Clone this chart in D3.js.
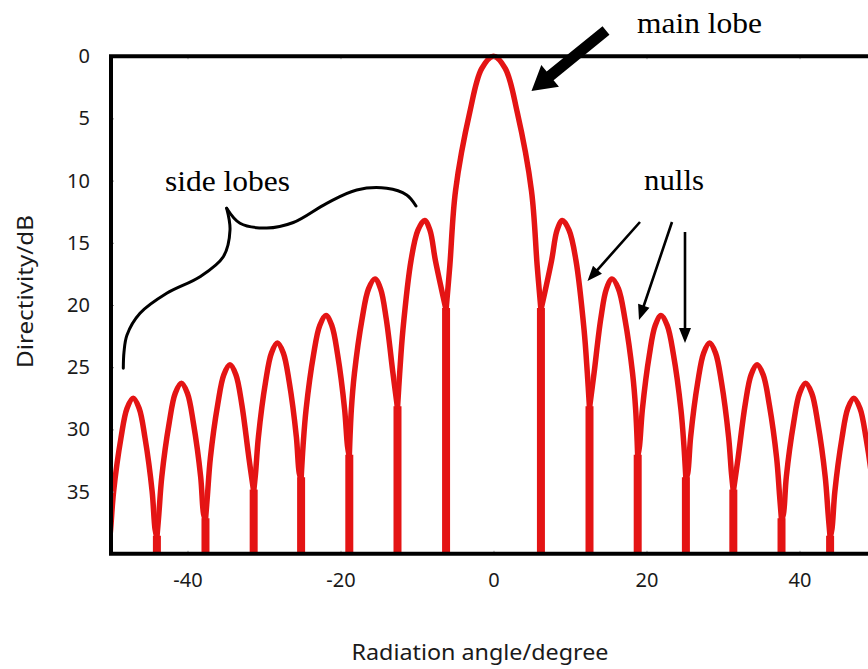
<!DOCTYPE html>
<html>
<head>
<meta charset="utf-8">
<script src="https://cdn.jsdelivr.net/npm/d3@7/dist/d3.min.js"></script>
<style>
  html, body { margin: 0; padding: 0; background: #fff; }
  svg { display: block; }
</style>
</head>
<body>
<svg id="chart" width="868" height="669"></svg>
<script>
// lobe peaks: angle (degree) and level (dB below maximum)
const peakAngle = [-47.1, -40.8, -34.45, -28.25, -21.9, -15.5, -9.0, 0, 9.0, 15.5, 21.9, 28.25, 34.45, 40.8, 47.1];
const peakLevel = [27.5, 26.3, 24.8, 23.05, 20.85, 17.9, 13.2, 0, 13.2, 17.9, 20.85, 23.05, 24.8, 26.3, 27.5];
// levels read 25%, 50%, 80% and 92% of the way from a peak to its nulls
const crownLevel = [28.3, 27.1, 25.6, 23.85, 21.65, 18.7, 14.0, 1.0, 14.0, 18.7, 21.65, 23.85, 25.6, 27.1, 28.3];
const shoulderLevel = [30.7, 29.5, 28.0, 26.2, 24.0, 21.1, 16.4, 4.5, 16.4, 21.1, 24.0, 26.2, 28.0, 29.5, 30.7];
const kneeLevel = [35.0, 33.8, 32.3, 30.6, 28.4, 25.5, 22.0, 10.8, 22.0, 25.5, 28.4, 30.6, 32.3, 33.8, 35.0];
const footLevel = [38.0, 36.8, 35.3, 33.5, 31.3, 28.4, 25.5, 16.8, 25.5, 28.4, 31.3, 33.5, 35.3, 36.8, 38.0];
// nulls: angle and the depth where two neighbouring lobes meet
const nullAngle = [-50.3, -44.0, -37.65, -31.35, -25.15, -18.85, -12.55, -6.2, 6.2, 12.55, 18.85, 25.15, 31.35, 37.65, 44.0, 50.3];
const nullLevel = [39.6, 38.7, 37.3, 35.0, 34.0, 32.2, 28.3, 20.4, 20.4, 28.3, 32.2, 34.0, 35.0, 37.3, 38.7, 39.6];

const xTicks = [-40, -20, 0, 20, 40];
const yTicks = [0, 5, 10, 15, 20, 25, 30, 35];

const svg = d3.select('#chart');
const x = d3.scaleLinear().domain([-50, 50]).range([111, 876]);
const y = d3.scaleLinear().domain([0, 40]).range([56.2, 553.8]);

const sans = '"Noto Sans", "Open Sans", sans-serif';
const serif = '"Liberation Serif", "Times New Roman", serif';
const red = '#e41414';

svg.append('rect').attr('width', 868).attr('height', 669).attr('fill', '#fff');

svg.append('clipPath').attr('id', 'plot')
  .append('rect')
  .attr('x', x(-50)).attr('y', y(0) - 6)
  .attr('width', x(50) - x(-50)).attr('height', y(40) - y(0) + 6);

// one flank of a lobe, from the peak side out to the null
function flank(i, a, j) {
  const p = peakAngle[i];
  const pts = [
    [p + (a - p) * 0.25, crownLevel[i]],
    [p + (a - p) * 0.5, shoulderLevel[i]],
    [p + (a - p) * 0.8, kneeLevel[i]],
    [p + (a - p) * 0.92, footLevel[i]]
  ].filter(d => d[1] < j - 0.4);
  pts.push([a, j]);
  return pts;
}

const lobes = peakAngle.map((p, i) => {
  const left = flank(i, nullAngle[i], nullLevel[i]).reverse();
  const right = flank(i, nullAngle[i + 1], nullLevel[i + 1]);
  return left.concat([[p, peakLevel[i]]], right);
});

const line = d3.line()
  .x(d => x(d[0]))
  .y(d => y(d[1]))
  .curve(d3.curveCatmullRom.alpha(0.5));

const g = svg.append('g').attr('clip-path', 'url(#plot)');

// nulls drop to the bottom of the range
g.selectAll('line.null')
  .data(nullAngle.map((a, i) => [a, nullLevel[i]]))
  .enter()
  .append('line')
  .attr('class', 'null')
  .attr('x1', d => x(d[0])).attr('x2', d => x(d[0]))
  .attr('y1', d => y(d[1]) - 2).attr('y2', y(41))
  .style('stroke', red)
  .style('stroke-width', 8);

g.selectAll('path.lobe')
  .data(lobes)
  .enter()
  .append('path')
  .attr('class', 'lobe')
  .attr('d', line)
  .style('fill', 'none')
  .style('stroke', red)
  .style('stroke-width', 5.5)
  .style('stroke-linejoin', 'round');

// axes
const fmt = d => String(d);
const yAxis = svg.append('g')
  .attr('transform', `translate(${x(-50)},0)`)
  .call(d3.axisLeft(y).tickValues(yTicks).tickFormat(fmt).tickSize(-3).tickPadding(21));
const xAxis = svg.append('g')
  .attr('transform', `translate(0,${y(40)})`)
  .call(d3.axisBottom(x).tickValues(xTicks).tickFormat(fmt).tickSize(-3).tickPadding(19));
svg.append('g')
  .attr('transform', `translate(0,${y(0)})`)
  .call(d3.axisTop(x).tickValues(xTicks).tickSize(-3).tickFormat(''));

svg.selectAll('.domain').remove();
svg.selectAll('.tick line').style('stroke', '#999').style('stroke-width', 1);
[yAxis, xAxis].forEach(a => a.selectAll('text')
  .style('font-family', sans)
  .style('font-size', '20px')
  .style('fill', '#1a1a1a'));

// frame: top, left and bottom
svg.append('path')
  .attr('d', `M${x(50)},${y(0)}H${x(-50)}V${y(40)}H${x(50)}`)
  .style('fill', 'none')
  .style('stroke', '#000')
  .style('stroke-width', 4)
  .style('stroke-linejoin', 'miter');

svg.append('text')
  .attr('x', 480).attr('y', 660)
  .attr('text-anchor', 'middle')
  .attr('textLength', 257).attr('lengthAdjust', 'spacingAndGlyphs')
  .style('font-family', sans).style('font-size', '21px').style('fill', '#1a1a1a')
  .text('Radiation angle/degree');

svg.append('text')
  .attr('transform', 'translate(33,291.5) rotate(-90)')
  .attr('text-anchor', 'middle')
  .attr('textLength', 153).attr('lengthAdjust', 'spacingAndGlyphs')
  .style('font-family', sans).style('font-size', '21px').style('fill', '#1a1a1a')
  .text('Directivity/dB');

// annotations
const notes = [
  {text: 'main lobe', x: 637, y: 33, w: 125},
  {text: 'side lobes', x: 165, y: 191, w: 125},
  {text: 'nulls', x: 644, y: 190, w: 60}
];
svg.selectAll('text.note')
  .data(notes)
  .enter()
  .append('text')
  .attr('class', 'note')
  .attr('x', d => d.x).attr('y', d => d.y)
  .attr('textLength', d => d.w).attr('lengthAdjust', 'spacingAndGlyphs')
  .style('font-family', serif).style('font-size', '30px').style('fill', '#000')
  .text(d => d.text);

function arrow(tail, tip, shaftHalf, headLen, headHalf) {
  const dx = tip[0] - tail[0], dy = tip[1] - tail[1];
  const L = Math.hypot(dx, dy);
  const ux = dx / L, uy = dy / L, px = -uy, py = ux;
  const bx = tip[0] - ux * headLen, by = tip[1] - uy * headLen;
  return [
    [tail[0] + px * shaftHalf, tail[1] + py * shaftHalf],
    [bx + px * shaftHalf, by + py * shaftHalf],
    [bx + px * headHalf, by + py * headHalf],
    tip,
    [bx - px * headHalf, by - py * headHalf],
    [bx - px * shaftHalf, by - py * shaftHalf],
    [tail[0] - px * shaftHalf, tail[1] - py * shaftHalf]
  ];
}

const arrows = [
  arrow([606, 30.5], [531.5, 91], 5.5, 24, 14),
  arrow([640, 222], [587.5, 281], 1.3, 15, 6),
  arrow([672, 222], [639, 320], 1.3, 15, 6),
  arrow([685, 232], [685, 343], 1.3, 15, 6)
];
svg.selectAll('path.arrow')
  .data(arrows)
  .enter()
  .append('path')
  .attr('class', 'arrow')
  .attr('d', d => 'M' + d.join('L') + 'Z')
  .style('fill', '#000');

// curly brace over the side lobes
const braceLeft = [[123.3, 368.3], [124, 352], [127, 335], [140, 313.3], [166.7, 293.3], [200, 276.7], [223.3, 256.7], [230, 230], [226.7, 208.3]];
const braceRight = [[226.7, 208.3], [240, 223.3], [266.7, 228], [293.3, 222.5], [326.7, 203.3], [356.7, 190], [386.7, 188.3], [406.7, 195], [416, 206]];
const braceLine = d3.line().curve(d3.curveCatmullRom.alpha(0.5));
svg.selectAll('path.brace')
  .data([braceLeft, braceRight])
  .enter()
  .append('path')
  .attr('class', 'brace')
  .attr('d', braceLine)
  .style('fill', 'none')
  .style('stroke', '#000')
  .style('stroke-width', 3)
  .style('stroke-linecap', 'round');
</script>
</body>
</html>
